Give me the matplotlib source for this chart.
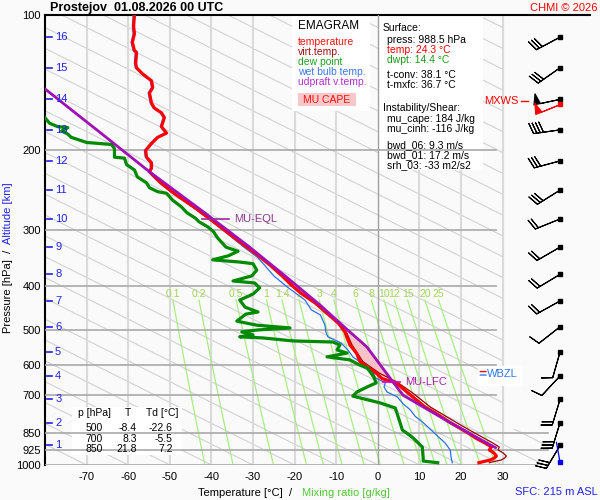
import numpy as np
import matplotlib
matplotlib.use("Agg")
import matplotlib.pyplot as plt
from matplotlib.patches import Rectangle, Polygon

plt.rcParams['font.family'] = ['Liberation Sans', 'DejaVu Sans']

# ---------------- data ----------------
temp_p = [100, 106, 110, 115, 120, 121, 128, 131, 135, 140, 145, 149, 157, 161, 165, 169, 177, 183, 187, 193,
          200, 207, 213, 219, 223, 236, 249, 268, 288, 305, 328, 341, 359, 380, 398, 415, 437, 469, 484, 506,
          519, 541, 565, 589, 605, 626, 643, 654, 664, 692, 717, 743, 766, 806, 850, 871, 894, 912, 926, 940,
          955, 965, 975, 982, 988.5]
temp_T = [-58.5, -58.7, -58.5, -59.0, -58.5, -58.0, -58.2, -58.0, -56.6, -54.4, -54.1, -54.9, -54.4, -53.7, -52.0,
          -51.3, -52.0, -50.8, -52.9, -54.4, -55.8, -55.6, -54.4, -54.4, -54.9, -52.2, -49.0, -44.0, -39.5, -36.0,
          -31.5, -29.0, -26.0, -23.0, -20.8, -18.5, -15.0, -11.2, -9.5, -7.9, -7.5, -6.7, -5.1, -4.3, -2.7,
          -0.3, 1.0, 3.8, 5.0, 7.3, 9.3, 11.3, 13.8, 17.5, 21.8, 23.5, 25.8, 27.3, 26.8, 27.9,
          28.5, 28.0, 27.0, 25.5, 24.3]

tv_p = [506, 541, 589, 626, 654, 692, 743, 806, 850, 894, 912, 926, 940, 955, 965, 975, 982, 988.5]
tv_T = [-7.6, -6.2, -3.6, 0.5, 4.6, 8.4, 12.6, 19.0, 23.4, 27.7, 29.2, 28.9, 30.1, 30.9, 30.5, 29.6, 28.0, 26.8]

td_p = [165, 174, 177, 178, 181, 184, 187, 192, 193, 194, 198, 207, 208, 215, 221, 229, 236, 242, 247, 249,
        258, 267, 275, 283, 288, 296, 303, 313, 328, 335, 343, 350, 354, 357, 369, 380, 390, 394, 404, 417,
        430, 446, 457, 462, 479, 489, 496, 501, 506, 514, 519, 522, 530, 533, 541, 555, 564, 575, 584, 599,
        609, 637, 657, 671, 688, 703, 728, 747, 782, 836, 850, 871, 912, 965, 980, 988.5]
td_T = [-81.0, -78.9, -77.0, -74.5, -76.0, -74.5, -73.7, -70.0, -66.9, -64.0, -63.3, -63.3, -60.9, -60.4, -58.5,
        -57.8, -55.6, -54.9, -52.9, -50.8, -49.3, -47.2, -45.9, -43.8, -43.0, -40.8, -39.5, -38.5, -36.5, -33.6,
        -36.0, -39.7, -33.2, -30.0, -29.1, -30.3, -34.8, -29.6, -28.4, -30.0, -33.2, -31.9, -28.8, -31.7, -33.9,
        -29.1, -21.1, -28.8, -32.7, -30.0, -33.2, -27.6, -20.4, -10.8, -9.1, -9.8, -7.4, -12.2, -6.7, -4.5,
        -2.5, -1.0, -0.4, -2.6, -5.0, -6.0, 0.6, 4.2, 4.9, 5.9, 7.0, 8.5, 10.7, 10.9, 10.9, 14.4]

wb_p = [100, 106, 110, 115, 120, 121, 128, 131, 135, 140, 145, 149, 157, 161, 165, 169, 177, 183, 187, 193,
        200, 207, 213, 219, 223, 236, 249, 268, 288, 305, 328, 345, 359, 380, 402, 430, 452, 464, 489, 506,
        519, 536, 555, 575, 590, 606, 625, 641, 657, 671, 688, 706, 730, 754, 780, 802, 844, 870, 894, 926,
        960, 988.5]
wb_T = [-58.8, -59.0, -58.8, -59.3, -58.8, -58.3, -58.5, -58.3, -56.9, -54.7, -54.4, -55.2, -54.7, -54.0, -52.3,
        -51.6, -52.3, -51.1, -53.2, -54.7, -56.1, -55.9, -54.7, -54.7, -55.2, -52.5, -49.3, -44.3, -39.8, -36.4,
        -32.2, -29.0, -27.3, -25.0, -21.8, -17.5, -16.0, -13.8, -12.7, -12.5, -12.0, -8.8, -7.2, -6.0, -4.3,
        -3.5, -1.1, -0.5, 1.8, 1.5, 2.2, 4.7, 6.0, 7.8, 9.0, 10.7, 13.3, 14.8, 16.2, 17.4, 17.6, 17.9]

parcel_p = [145.5, 182, 223, 270, 328, 380, 441, 495, 547, 657, 700, 743, 800, 840, 890, 915]
parcel_T = [-80.2, -66.9, -54.9, -42.8, -30.8, -22.3, -13.9, -7.9, -2.6, 3.8, 6.1, 10.9, 16.9, 21.0, 25.9, 28.3]

eql_p = 284
lfc_p = 654
wbzl_p = 628

mix_ratios = [0.1, 0.2, 0.5, 1, 1.4, 2, 3, 4, 6, 8, 10, 12, 15, 20, 25]
mix_labels = ['0.1', '0.2', '0.5', '1', '1.4', '2', '3', '4', '6', '8', '10', '12', '15', '20', '25']

isotherms = [-70, -60, -50, -40, -30, -20, -10, 10, 20, 30]
isobars_upper = [200, 300, 400, 500, 600, 700]
isobars_lower = [850, 925, 1000]
p_ticks = [100, 200, 300, 400, 500, 600, 700, 850, 925, 1000]
t_ticks = [-70, -60, -50, -40, -30, -20, -10, 0, 10, 20, 30]

alt_km = [1, 2, 3, 4, 5, 6, 7, 8, 9, 10, 11, 12, 13, 14, 15, 16]
alt_p = [905, 805, 715, 634, 561, 493, 432, 377, 328, 284, 245, 211, 180, 154, 131, 112]
wind_dir = [211, 197, 197, 223, 196, 232, 241, 239, 240, 248, 238, 255, 262, 258, 235, 242]
wind_spd = [30, 30, 20, 10, 10, 10, 20, 20, 20, 20, 30, 30, 40, 50, 30, 30]
mxws_p, mxws_dir, mxws_spd = 158, 248, 50
sfc_p = 986

table_p = [500, 700, 850]
table_T = [-8.4, 8.3, 21.8]
table_Td = [-22.6, -5.5, 7.2]

info_lines = [
    ("Surface:", 'k', 383, 28),
    ("press: 988.5 hPa", 'k', 387, 40),
    ("temp: 24.3 °C", '#ff0000', 387, 50),
    ("dwpt: 14.4 °C", '#1a9a1a', 387, 60),
    ("t-conv: 38.1 °C", 'k', 387, 74.5),
    ("t-mxfc: 36.7 °C", 'k', 387, 84.5),
    ("Instability/Shear:", 'k', 383, 108),
    ("mu_cape: 184 J/kg", 'k', 387, 119.5),
    ("mu_cinh: -116 J/kg", 'k', 387, 129.5),
    ("bwd_06: 9.3 m/s", 'k', 387, 145),
    ("bwd_01: 17.2 m/s", 'k', 387, 155),
    ("srh_03: -33 m2/s2", 'k', 387, 165),
]
legend_lines = [
    ("temperature", '#ff1010', 42.3),
    ("virt.temp.", '#a01010', 52.3),
    ("dew point", '#20a020', 62),
    ("wet bulb temp.", '#3a78ee', 72),
    ("udpraft v.temp.", '#b030d0', 82),
]

# ---------------- figure ----------------
BG = '#fafafa'
W, H = 600, 500
fig = plt.figure(figsize=(6, 5), dpi=100, facecolor=BG)


def fx(px):
    return px / W


def fy(py):
    return 1 - py / H


ax = fig.add_axes([fx(45), fy(465), fx(590) - fx(45), fy(15) - fy(465)])
ax.set_facecolor(BG)
ax.set_yscale('log')
ax.set_xlim(-80, 51)
ax.set_ylim(1000, 100)

# background clip region for adiabats
clip_poly = Polygon([(-80, 100), (30, 100), (30, 830), (41, 830), (41, 1000), (-80, 1000)],
                    closed=True, transform=ax.transData, facecolor='none', edgecolor='none')
ax.add_patch(clip_poly)

pp = np.geomspace(100, 1000, 60)
for t0 in range(-80, 260, 10):
    line, = ax.plot(t0 + 216 * np.log10(pp / 1000.0), pp, color='#d2d2d2', lw=0.8, zorder=1)
    line.set_clip_path(clip_poly)

for t in isotherms:
    ax.plot([t, t], [100, 1000], color='#dadada', lw=1.5, zorder=1.2)

# mixing ratio lines
pm = np.geomspace(430, 1000, 40)
for w, lab in zip(mix_ratios, mix_labels):
    e = w * pm / (622.0 + w)
    lg = np.log(e / 6.112)
    td = 243.5 * lg / (17.67 - lg)
    ax.plot(td, pm, color='#a8ee84', lw=0.9, zorder=1.5)
    ax.text(td[0], 417, lab, color='#a2d45c', fontsize=7.5, ha='center', va='center', zorder=2)


# boxes (legend, info, table, wbzl)
def box(x0, y0, x1, y1, fc='white', z=2.5):
    r = Rectangle((fx(x0), fy(y1)), fx(x1) - fx(x0), fy(y0) - fy(y1), transform=fig.transFigure,
                  facecolor=fc, edgecolor='none', zorder=z)
    ax.add_patch(r)


box(292, 16, 370, 111)
box(379, 16, 483, 170)
box(72, 407, 182, 455)
box(478, 366, 522, 386)
box(298, 93, 356, 106, fc='#f8c8c8', z=2.6)

for p in isobars_upper:
    ax.plot([-80, 28.5], [p, p], color='#a9a9a9', lw=1.2, zorder=3)
for p in isobars_lower:
    ax.plot([-80, 40.8], [p, p], color='#a9a9a9', lw=1.2, zorder=3)
ax.plot([0, 0], [100, 1000], color='#a0a0a0', lw=1.0, zorder=3)

# CAPE shading
pg = np.geomspace(eql_p, lfc_p + 3, 200)
lp = np.log(pg)
par_i = np.interp(lp, np.log(parcel_p), parcel_T)
env_i = np.interp(lp, np.log(temp_p), temp_T)
ax.fill_betweenx(pg, env_i, par_i, where=par_i > env_i, color='#f6c4c8', lw=0, zorder=4)

# profiles
ax.plot(tv_T, tv_p, color='#9a0000', lw=0.9, zorder=5)
ax.plot(wb_T, wb_p, color='#2a72e6', lw=0.9, zorder=5.2)
ax.plot(temp_T, temp_p, color='#ff0000', lw=2.3, zorder=6)
ax.plot(td_T, td_p, color='#008a00', lw=2.3, zorder=6)
ax.plot(parcel_T, parcel_p, color='#a010b4', lw=2.0, zorder=6.5)

# EQL / LFC markers
t_eql = np.interp(np.log(eql_p), np.log(parcel_p), parcel_T)
ax.plot([t_eql - 2.6, t_eql + 3.9], [eql_p, eql_p], color='#9a2a9a', lw=1.2, zorder=7)
ax.text(t_eql + 5.2, eql_p, 'MU-EQL', color='#8e3a8e', fontsize=8, va='center', ha='left', zorder=8)
t_lfc = np.interp(np.log(lfc_p), np.log(parcel_p), parcel_T)
ax.plot([t_lfc - 2.4, t_lfc + 1.7], [lfc_p, lfc_p], color='#cc00cc', lw=1.2, zorder=7)
ax.text(t_lfc + 3.0, lfc_p, 'MU-LFC', color='#aa22aa', fontsize=8, va='center', ha='left', zorder=8)

# wind barbs
bx = 43.8
d = np.deg2rad(wind_dir)
u = -np.array(wind_spd) * np.sin(d)
v = -np.array(wind_spd) * np.cos(d)
ax.barbs(np.full(len(alt_p), bx), alt_p, u, v, length=6.2, linewidth=0.8, color='k', zorder=8,
         clip_on=False)
ax.plot(np.full(len(alt_p), bx), alt_p, 's', ms=2.6, color='k', zorder=9, clip_on=False)
dm = np.deg2rad(mxws_dir)
ax.barbs([bx], [mxws_p], [-mxws_spd * np.sin(dm)], [-mxws_spd * np.cos(dm)], length=6.2, linewidth=0.8,
         color='red', zorder=8, clip_on=False)
ax.plot([bx], [mxws_p], 's', ms=2.6, color='red', zorder=9)
ax.annotate('', xy=(bx, sfc_p), xytext=(-2.6, 14.4), textcoords='offset points',
            arrowprops=dict(arrowstyle='-', color='#0000ee', lw=0.9, shrinkA=0, shrinkB=0), zorder=8)
ax.plot([bx], [sfc_p], 's', ms=2.8, color='#0000ee', zorder=9)
ax.text(33.7, mxws_p - 3, 'MXWS', color='red', fontsize=8, ha='right', va='center')
ax.plot([34.4, 36.1], [mxws_p - 3, mxws_p - 3], color='red', lw=1.0)

# WBZL marker
ax.annotate('', xy=(24.6, 620), xytext=(4.3, 0), textcoords='offset points',
            arrowprops=dict(arrowstyle='-', color='red', lw=1.0, shrinkA=0, shrinkB=0), zorder=8)
ax.annotate('', xy=(24.6, 631), xytext=(4.3, 0), textcoords='offset points',
            arrowprops=dict(arrowstyle='-', color='#3377ee', lw=1.0, shrinkA=0, shrinkB=0), zorder=8)
ax.text(26.2, wbzl_p, 'WBZL', color='#3377ee', fontsize=8, ha='left', va='center', zorder=8)

# altitude scale
ytr = ax.get_yaxis_transform()
for km, p in zip(alt_km, alt_p):
    ax.plot([0.004, 0.0135], [p, p], color='#2020ee', lw=1.2, transform=ytr, zorder=9)
    ax.text(0.0185, p, str(km), color='#2020ee', fontsize=8, ha='left', va='center', transform=ytr, zorder=9)

# axes styling
for s in ['right', 'bottom']:
    ax.spines[s].set_visible(False)
for s in ['left', 'top']:
    ax.spines[s].set_color('black')
    ax.spines[s].set_linewidth(1.5)
ax.set_yticks(p_ticks)
ax.set_yticklabels([str(p) for p in p_ticks])
ax.yaxis.set_minor_locator(matplotlib.ticker.NullLocator())
ax.set_xticks(t_ticks)
ax.set_xticklabels([str(t) for t in t_ticks])
ax.tick_params(axis='y', length=0, pad=3, labelsize=8)
ax.tick_params(axis='x', length=0, pad=5, labelsize=8)

# texts
fig.text(fx(50), fy(8), 'Prostejov  01.08.2026 00 UTC', fontsize=9, weight='bold', ha='left', va='center')
fig.text(fx(597), fy(8), 'CHMI © 2026', color='red', fontsize=8, ha='right', va='center')
fig.text(fx(598), fy(492), 'SFC: 215 m ASL', color='#2222ee', fontsize=8, ha='right', va='center')
fig.text(fx(8), fy(291), 'Pressure [hPa]  /', rotation=90, fontsize=8, ha='center', va='center')
fig.text(fx(8), fy(213), 'Altitude [km]', rotation=90, fontsize=8, color='#2222ee', ha='center', va='center')
fig.text(fx(245), fy(493), 'Temperature [°C]  /', fontsize=8, ha='center', va='center')
fig.text(fx(302), fy(493), 'Mixing ratio [g/kg]', fontsize=8, color='#55c837', ha='left', va='center')

fig.text(fx(298), fy(26), 'EMAGRAM', fontsize=8.5, ha='left', va='center')
for s, c, y in legend_lines:
    fig.text(fx(298), fy(y), s, fontsize=7.5, color=c, ha='left', va='center')
fig.text(fx(327), fy(100), 'MU CAPE', fontsize=7.5, color='#ff1010', ha='center', va='center')

for s, c, x, y in info_lines:
    fig.text(fx(x), fy(y), s, fontsize=7.5, color=c, ha='left', va='center')

fig.text(fx(78), fy(413.5), 'p [hPa]', fontsize=7.5, ha='left', va='center')
fig.text(fx(127.5), fy(413.5), 'T', fontsize=7.5, ha='center', va='center')
fig.text(fx(146), fy(413.5), 'Td [°C]', fontsize=7.5, ha='left', va='center')
for i, (p, t, td) in enumerate(zip(table_p, table_T, table_Td)):
    yy = 428.3 + 10.3 * i
    fig.text(fx(102.5), fy(yy), str(p), fontsize=7.5, ha='right', va='center')
    fig.text(fx(137), fy(yy), f'{t:.1f}', fontsize=7.5, ha='right', va='center')
    fig.text(fx(172.5), fy(yy), f'{td:.1f}', fontsize=7.5, ha='right', va='center')

fig.savefig('out.png', dpi=100, facecolor=BG)
